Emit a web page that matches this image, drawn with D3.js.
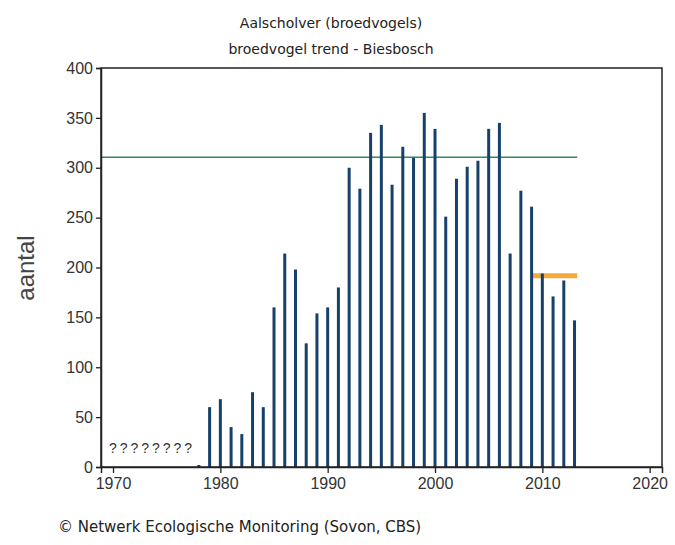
<!DOCTYPE html>
<html><head><meta charset="utf-8">
<script src="https://cdn.jsdelivr.net/npm/d3@7"></script>
<style>body{margin:0;background:#fff}svg{display:block}</style>
</head><body>
<script>
const years = [1978,1979,1980,1981,1982,1983,1984,1985,1986,1987,1988,1989,1990,1991,1992,1993,1994,1995,1996,1997,1998,1999,2000,2001,2002,2003,2004,2005,2006,2007,2008,2009,2010,2011,2012,2013];
const counts = [2,60,68,40,33,75,60,160,214,198,124,154,160,180,300,279,335,343,283,321,310,355,339,251,289,301,307,339,345,214,277,261,194,171,187,147];
const missingYears = [1970,1971,1972,1973,1974,1975,1976,1977];
const referenceLine = {value: 310.5, to: 2013.25};
const recentMean = {value: 191.8, from: 2008.95, to: 2013.25};
const yTicks = [0,50,100,150,200,250,300,350,400];
const xTicks = [1970,1980,1990,2000,2010,2020];
const titleLines = ["Aalscholver (broedvogels)", "broedvogel trend - Biesbosch"];
const yLabel = "aantal";
const credit = "\u00A9 Netwerk Ecologische Monitoring (Sovon, CBS)";

const W = 675, H = 545;
const m = {left:101, right:13, top:68, bottom:78};
const svg = d3.select("body").append("svg").attr("width",W).attr("height",H);
const x = d3.scaleLinear().domain([1968.88, 2021.15]).range([m.left, W-m.right]);
const y = d3.scaleLinear().domain([0,400]).range([H-m.bottom, m.top]);

// reference line
svg.append("line").attr("x1", x.range()[0]).attr("x2", x(referenceLine.to))
  .attr("y1", y(referenceLine.value)).attr("y2", y(referenceLine.value))
  .attr("stroke", "#2f8a5c").attr("stroke-width", 1.5);

// recent mean
svg.append("line").attr("x1", x(recentMean.from)).attr("x2", x(recentMean.to))
  .attr("y1", y(recentMean.value)).attr("y2", y(recentMean.value))
  .attr("stroke", "#f2a124").attr("stroke-width", 5).attr("stroke-opacity", 0.9);

// bars
svg.append("g").selectAll("rect").data(years).join("rect")
  .attr("x", d => x(d)-1.5).attr("width", 3)
  .attr("y", (d,i) => y(counts[i])).attr("height", (d,i) => y(0)-y(counts[i]))
  .attr("fill", "#17416b");

// missing markers
svg.append("g").selectAll("text").data(missingYears).join("text")
  .attr("x", d => x(d)).attr("y", 453).attr("text-anchor","middle")
  .attr("font-family","Liberation Sans, Arial, sans-serif").attr("font-size",14)
  .attr("fill","#333").text("?");

// frame
svg.append("rect").attr("x", m.left).attr("y", m.top)
  .attr("width", W-m.right-m.left).attr("height", H-m.bottom-m.top)
  .attr("fill","none").attr("stroke","#222").attr("stroke-width",1.5);

// axes
const xa = svg.append("g").attr("transform",`translate(0,${H-m.bottom})`)
  .call(d3.axisBottom(x).tickValues(xTicks).tickFormat(d3.format("d")).tickSize(6).tickPadding(5));
const ya = svg.append("g").attr("transform",`translate(${m.left},0)`)
  .call(d3.axisLeft(y).tickValues(yTicks).tickSize(5).tickPadding(3));
[xa, ya].forEach(g => {
  g.select(".domain").attr("stroke","#222").attr("stroke-width",1.5);
  g.selectAll(".tick line").attr("stroke","#222").attr("stroke-width",1.3);
  g.selectAll("text").attr("font-family","Liberation Sans, Arial, sans-serif")
    .attr("font-size",16).attr("fill","#333");
});

// y label
svg.append("text").attr("transform","translate(34,268) rotate(-90)")
  .attr("text-anchor","middle").attr("font-family","Liberation Sans, Arial, sans-serif")
  .attr("font-size",24).attr("fill","#444").text(yLabel);

// title
svg.append("g").selectAll("text").data(titleLines).join("text")
  .attr("x", 331).attr("y", (d,i) => 28 + i*26).attr("text-anchor","middle")
  .attr("font-family","DejaVu Sans, Verdana, sans-serif").attr("font-size",14)
  .attr("fill","#222").text(d => d);

// credit
svg.append("text").attr("x", 58).attr("y", 532)
  .attr("font-family","DejaVu Sans, Verdana, sans-serif").attr("font-size",15)
  .attr("fill","#222").text(credit);
</script>
</body></html>
